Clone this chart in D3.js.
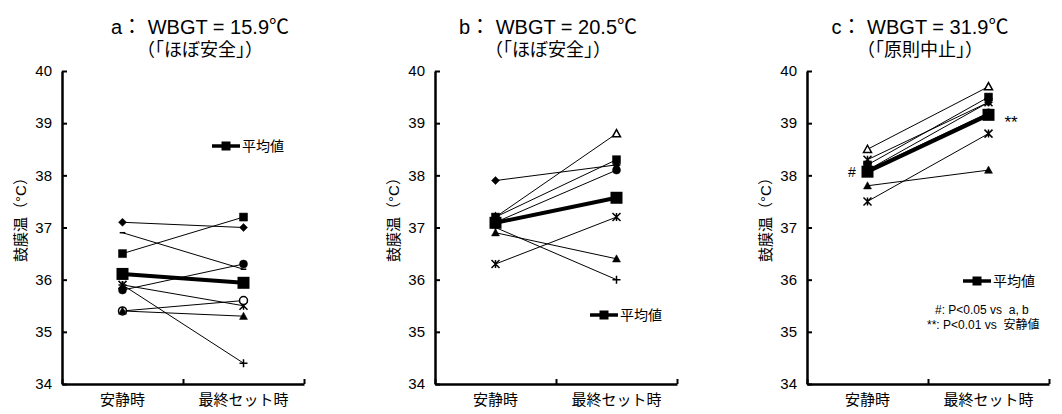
<!DOCTYPE html>
<html><head><meta charset="utf-8">
<script src="https://cdn.jsdelivr.net/npm/d3@7"></script>
<style>
body{margin:0;background:#fff;}
text{font-family:"Liberation Sans","Noto Sans CJK JP",sans-serif;fill:#000;white-space:pre;}
</style></head>
<body><svg id="chart" width="1062" height="414"></svg>
<script>
// ---- data ----
const categories = ["安静時", "最終セット時"];
const yTicks = [34, 35, 36, 37, 38, 39, 40];
const titles1 = ["a： WBGT = 15.9℃", "b： WBGT = 20.5℃", "c： WBGT = 31.9℃"];
const titles2 = ["（「ほぼ安全」）", "（「ほぼ安全」）", "（「原則中止」）"];

const markersA = ["diamond", "dash", "square", "circle", "star", "plus", "opencircle", "triangle"];
const restA    = [37.1, 36.9, 36.5, 35.8, 35.9, 35.9, 35.4, 35.4];
const finalA   = [37.0, 36.2, 37.2, 36.3, 35.5, 34.4, 35.6, 35.3];
const meanA    = [36.11, 35.94];

const markersB = ["diamond", "opentriangle", "square", "circle", "star", "triangle", "plus"];
const restB    = [37.9, 37.2, 37.2, 37.1, 36.3, 36.9, 37.0];
const finalB   = [38.2, 38.8, 38.3, 38.1, 37.2, 36.4, 36.0];
const meanB    = [37.09, 37.57];

const markersC = ["opentriangle", "star", "square", "diamond", "circle", "triangle", "star"];
const restC    = [38.5, 38.3, 38.2, 38.1, 38.1, 37.8, 37.5];
const finalC   = [39.7, 39.4, 39.5, 39.4, 39.2, 38.1, 38.8];
const meanC    = [38.07, 39.16];

const legendLabel = "平均値";
const yLabel = "鼓膜温（°C）";
const noteLines = ["#: P<0.05 vs  a, b", "**: P<0.01 vs  安静値"];

// ---- layout ----
const svg = d3.select("#chart");
const yTop = 71, yBot = 384, pw = 242;
const panels = [
  {x0: 62, tcx: 200, markers: markersA, rest: restA, fin: finalA, mean: meanA, legend: [212, 146]},
  {x0: 435, tcx: 548, markers: markersB, rest: restB, fin: finalB, mean: meanB, legend: [590, 315]},
  {x0: 807, tcx: 920, markers: markersC, rest: restC, fin: finalC, mean: meanC, legend: [963, 281]}
];

const y = d3.scaleLinear().domain([34, 40]).range([yBot, yTop]);

function markerPath(type, s) {
  const h = s / 2;
  switch (type) {
    case "diamond": return `M0,${-h}L${h},0L0,${h}L${-h},0Z`;
    case "square": return `M${-h},${-h}H${h}V${h}H${-h}Z`;
    case "triangle":
    case "opentriangle": return `M0,${-h}L${h},${h*0.8}L${-h},${h*0.8}Z`;
    case "circle":
    case "opencircle": return d3.symbol(d3.symbolCircle, Math.PI * h * h)();
    case "star": return `M${-h},${-h}L${h},${h}M${-h},${h}L${h},${-h}M0,${-h}V${h}`;
    case "plus": return `M${-h},0H${h}M0,${-h}V${h}`;
    case "dash": return `M${-h*0.7},0H${h*0.7}`;
  }
}
function markerStyle(sel, type) {
  const filled = ["diamond", "square", "triangle", "circle"].includes(type);
  const open = ["opentriangle", "opencircle"].includes(type);
  sel.attr("fill", filled ? "#000" : (open ? "#fff" : "none"))
     .attr("stroke", "#000")
     .attr("stroke-width", filled ? 0.5 : 1.5);
}

panels.forEach((p, i) => {
  const g = svg.append("g");
  const x = d3.scaleBand().domain(categories).range([p.x0, p.x0 + pw]).paddingInner(0).paddingOuter(0);
  const cx = c => x(c) + x.bandwidth() / 2;
  const xl = d3.scaleLinear().domain([0, categories.length]).range([p.x0, p.x0 + pw]);

  // titles
  g.append("text").attr("x", p.tcx).attr("y", 34).attr("text-anchor", "middle")
    .style("font-size", "20px").text(titles1[i]);
  g.append("text").attr("x", p.tcx).attr("y", 56).attr("text-anchor", "middle")
    .style("font-size", "18px").text(titles2[i]);

  // y axis
  const ya = g.append("g").attr("transform", `translate(${p.x0},0)`)
    .call(d3.axisLeft(y).tickValues(yTicks).tickSizeInner(-5).tickSizeOuter(0).tickPadding(10).tickFormat(d3.format("d")));
  ya.select(".domain").attr("stroke-width", 2.5);
  ya.selectAll(".tick line").attr("stroke-width", 2);
  ya.selectAll(".tick text").style("font-size", "15px").style("font-family", "'Liberation Sans',sans-serif");

  // x axis
  const xa = g.append("g").attr("transform", `translate(0,${yBot})`)
    .call(d3.axisBottom(xl).tickValues([0, 1, 2]).tickSizeInner(-5).tickSizeOuter(0).tickFormat(""));
  xa.select(".domain").attr("stroke-width", 2.5);
  xa.selectAll(".tick line").attr("stroke-width", 2);
  categories.forEach(c => {
    g.append("text").attr("x", cx(c)).attr("y", 405).attr("text-anchor", "middle")
      .style("font-size", "15px").text(c);
  });

  // y label
  g.append("text").attr("transform", `translate(${p.x0 - 41},216) rotate(-90)`)
    .attr("text-anchor", "middle").attr("dy", "0.35em").style("font-size", "15px").text(yLabel);

  // individual lines
  const line = d3.line().x(d => cx(d.c)).y(d => y(d.v));
  p.markers.forEach((m, k) => {
    const pts = [{c: categories[0], v: p.rest[k]}, {c: categories[1], v: p.fin[k]}];
    g.append("path").attr("d", line(pts)).attr("fill", "none").attr("stroke", "#000").attr("stroke-width", 1);
    pts.forEach(d => {
      g.append("path").attr("transform", `translate(${cx(d.c)},${y(d.v)})`)
        .attr("d", markerPath(m, 8)).call(markerStyle, m);
    });
  });
  // mean
  const mpts = categories.map((c, k) => ({c, v: p.mean[k]}));
  g.append("path").attr("d", line(mpts)).attr("fill", "none").attr("stroke", "#000").attr("stroke-width", 4);
  mpts.forEach(d => {
    g.append("path").attr("transform", `translate(${cx(d.c)},${y(d.v)})`)
      .attr("d", markerPath("square", 12)).attr("fill", "#000");
  });

  // legend
  const [lx, ly] = p.legend;
  g.append("line").attr("x1", lx).attr("x2", lx + 28).attr("y1", ly).attr("y2", ly)
    .attr("stroke", "#000").attr("stroke-width", 3.5);
  g.append("path").attr("transform", `translate(${lx + 14},${ly})`).attr("d", markerPath("square", 9)).attr("fill", "#000");
  g.append("text").attr("x", lx + 30).attr("y", ly).attr("dy", "0.36em").style("font-size", "14px").text(legendLabel);
});

// annotations (panel c)
svg.append("text").attr("x", 852).attr("y", 172).attr("text-anchor", "middle").attr("dy", "0.35em")
  .style("font-size", "14px").text("#");
svg.append("text").attr("x", 1011).attr("y", 122).attr("text-anchor", "middle").attr("dy", "0.35em")
  .style("font-size", "17px").text("**");
svg.append("text").attr("x", 935).attr("y", 314).style("font-size", "12px").text(noteLines[0]);
svg.append("text").attr("x", 927).attr("y", 329).style("font-size", "12px").text(noteLines[1]);
</script></body></html>
